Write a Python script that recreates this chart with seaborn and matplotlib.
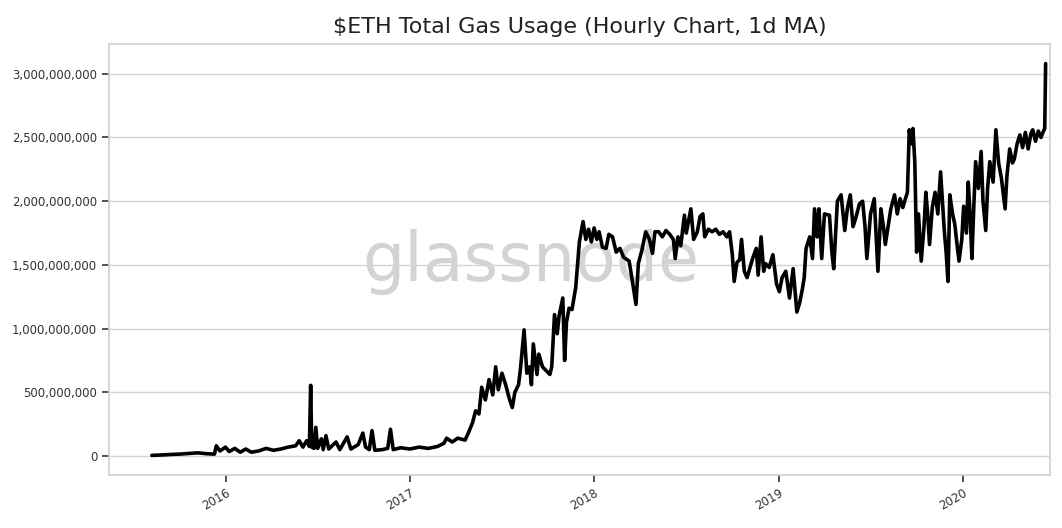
import seaborn as sns
import pandas as pd
import matplotlib
matplotlib.use("Agg")
import matplotlib.pyplot as plt
import matplotlib.dates as mdates
from matplotlib.ticker import FuncFormatter

# time as decimal year, gas used in millions
year_frac = [
    2015.60, 2015.65, 2015.70, 2015.75, 2015.80, 2015.85, 2015.90, 2015.94, 2015.95, 2015.97,
    2016.00, 2016.02, 2016.05, 2016.08, 2016.11, 2016.14, 2016.18, 2016.22, 2016.26, 2016.30,
    2016.34, 2016.38, 2016.40, 2016.42, 2016.44, 2016.455, 2016.462, 2016.468, 2016.48, 2016.49,
    2016.50, 2016.52, 2016.53, 2016.545, 2016.56, 2016.60, 2016.62, 2016.66, 2016.68, 2016.72,
    2016.745, 2016.76, 2016.78, 2016.795, 2016.81, 2016.85, 2016.88, 2016.895, 2016.91, 2016.95,
    2017.00, 2017.05, 2017.10, 2017.15, 2017.185, 2017.20, 2017.23, 2017.26, 2017.30, 2017.32,
    2017.34, 2017.357, 2017.375, 2017.39, 2017.41, 2017.43, 2017.45, 2017.466, 2017.48, 2017.50,
    2017.52, 2017.54, 2017.556, 2017.57, 2017.59, 2017.60, 2017.62, 2017.635, 2017.65, 2017.66,
    2017.67, 2017.69, 2017.70, 2017.72, 2017.74, 2017.76, 2017.77, 2017.785, 2017.80, 2017.81,
    2017.83, 2017.84, 2017.85, 2017.864, 2017.88, 2017.90, 2017.92, 2017.94, 2017.955, 2017.97,
    2017.985, 2018.00, 2018.015, 2018.027, 2018.045, 2018.065, 2018.08, 2018.10, 2018.12, 2018.14,
    2018.16, 2018.19, 2018.21, 2018.227, 2018.24, 2018.26, 2018.28, 2018.30, 2018.317, 2018.33,
    2018.35, 2018.37, 2018.39, 2018.41, 2018.43, 2018.44, 2018.455, 2018.47, 2018.49, 2018.50,
    2018.525, 2018.54, 2018.56, 2018.575, 2018.59, 2018.60, 2018.62, 2018.64, 2018.66, 2018.68,
    2018.70, 2018.72, 2018.735, 2018.75, 2018.76, 2018.775, 2018.79, 2018.80, 2018.815, 2018.83,
    2018.84, 2018.86, 2018.88, 2018.89, 2018.906, 2018.92, 2018.93, 2018.95, 2018.97, 2018.99,
    2019.005, 2019.02, 2019.04, 2019.06, 2019.08, 2019.10, 2019.115, 2019.13, 2019.14, 2019.15,
    2019.17, 2019.185, 2019.196, 2019.21, 2019.22, 2019.235, 2019.25, 2019.277, 2019.29, 2019.30,
    2019.32, 2019.34, 2019.36, 2019.375, 2019.39, 2019.405, 2019.42, 2019.44, 2019.457, 2019.47,
    2019.48, 2019.50, 2019.52, 2019.54, 2019.556, 2019.57, 2019.58, 2019.60, 2019.61, 2019.63,
    2019.645, 2019.66, 2019.675, 2019.685, 2019.70, 2019.71, 2019.72, 2019.73, 2019.74, 2019.75,
    2019.76, 2019.775, 2019.79, 2019.80, 2019.81, 2019.82, 2019.835, 2019.85, 2019.865, 2019.88,
    2019.89, 2019.90, 2019.91, 2019.92, 2019.93, 2019.945, 2019.957, 2019.97, 2019.98, 2019.995,
    2020.005, 2020.02, 2020.03, 2020.04, 2020.05, 2020.06, 2020.07, 2020.085, 2020.10, 2020.11,
    2020.125, 2020.135, 2020.147, 2020.165, 2020.18, 2020.195, 2020.21, 2020.23, 2020.24, 2020.255,
    2020.27, 2020.28, 2020.295, 2020.31, 2020.325, 2020.34, 2020.355, 2020.37, 2020.38, 2020.395,
    2020.41, 2020.425, 2020.435, 2020.445, 2020.45,
]
gas_millions = [
    5, 8, 12, 15, 20, 25, 18, 15, 80, 40,
    70, 35, 60, 30, 55, 30, 40, 60, 45, 55,
    70, 80, 120, 70, 120, 75, 555, 70, 60, 225,
    60, 135, 50, 160, 55, 110, 50, 150, 55, 90,
    180, 70, 50, 200, 45, 50, 60, 210, 50, 65,
    55, 70, 60, 75, 100, 140, 110, 140, 125, 190,
    260, 355, 330, 540, 440, 600, 480, 700, 520, 650,
    560, 450, 380, 500, 560, 680, 990, 650, 700, 560,
    880, 640, 800, 700, 670, 640, 700, 1110, 960, 1100,
    1240, 750, 1050, 1160, 1150, 1320, 1680, 1840, 1700, 1780,
    1680, 1790, 1700, 1760, 1640, 1630, 1740, 1720, 1600, 1630,
    1560, 1530, 1350, 1190, 1510, 1620, 1760, 1700, 1590, 1760,
    1760, 1720, 1770, 1740, 1700, 1550, 1720, 1650, 1890, 1750,
    1940, 1700, 1760, 1880, 1900, 1720, 1780, 1760, 1780, 1740,
    1760, 1720, 1760, 1580, 1370, 1520, 1540, 1700, 1450, 1400,
    1450, 1550, 1630, 1420, 1720, 1450, 1510, 1480, 1580, 1350,
    1290, 1400, 1450, 1240, 1470, 1130, 1200, 1310, 1400, 1630,
    1720, 1550, 1940, 1720, 1940, 1550, 1900, 1890, 1600, 1470,
    2000, 2050, 1770, 1950, 2050, 1800, 1870, 1980, 2000, 1800,
    1550, 1900, 2020, 1450, 1940, 1800, 1660, 1850, 1940, 2050,
    1900, 2020, 1950, 2000, 2070, 2560, 2450, 2570, 2310, 1600,
    1900, 1530, 1800, 2070, 1900, 1660, 1950, 2070, 1900, 2230,
    2000, 1770, 1600, 1370, 2050, 1900, 1820, 1650, 1530, 1700,
    1960, 1750, 2150, 1900, 1550, 1950, 2310, 2100, 2390, 2000,
    1770, 2100, 2310, 2150, 2560, 2300, 2180, 1940, 2200, 2410,
    2300, 2330, 2450, 2520, 2420, 2540, 2410, 2530, 2560, 2470,
    2550, 2500, 2540, 2570, 3080,
]

start = pd.Timestamp("2016-01-01")
df = pd.DataFrame({
    "date": [start + pd.Timedelta(days=(y - 2016) * 365.25) for y in year_frac],
    "gas": [g * 1e6 for g in gas_millions],
})

sns.set_style("whitegrid")
plt.rcParams["font.family"] = ["DejaVu Sans"]

fig, ax = plt.subplots(figsize=(10.62, 5.28), dpi=100)
fig.subplots_adjust(left=0.1026, right=0.9887, top=0.9167, bottom=0.1004)

sns.lineplot(data=df, x="date", y="gas", ax=ax, color="black", linewidth=2.6)

ax.text(0.448, 0.494, "glassnode", transform=ax.transAxes, ha="center", va="center",
        fontsize=48, color="#d3d3d3", zorder=0)

ax.set_title("$ETH Total Gas Usage (Hourly Chart, 1d MA)", fontsize=16, pad=8, color="#222222")
ax.set_xlabel("")
ax.set_ylabel("")
ax.set_xlim(pd.Timestamp("2015-05-15"), pd.Timestamp("2020-06-22"))

ax.yaxis.set_major_formatter(FuncFormatter(lambda v, p: f"{v:,.0f}"))
ax.set_yticks([0, 5e8, 1e9, 1.5e9, 2e9, 2.5e9, 3e9])
ax.xaxis.set_major_locator(mdates.YearLocator())
ax.xaxis.set_major_formatter(mdates.DateFormatter("%Y"))

ax.grid(axis="x", visible=False)
ax.grid(axis="y", color="#d5d5d5", linewidth=1)
for s in ax.spines.values():
    s.set_color("#d0d0d0")
    s.set_linewidth(1.2)
ax.tick_params(axis="both", bottom=True, left=True, length=5, width=1.2, color="#333333",
               labelsize=8.5, labelcolor="#333333")
plt.setp(ax.get_xticklabels(), rotation=30, ha="right", rotation_mode="anchor")

fig.savefig("out.png", dpi=100)
